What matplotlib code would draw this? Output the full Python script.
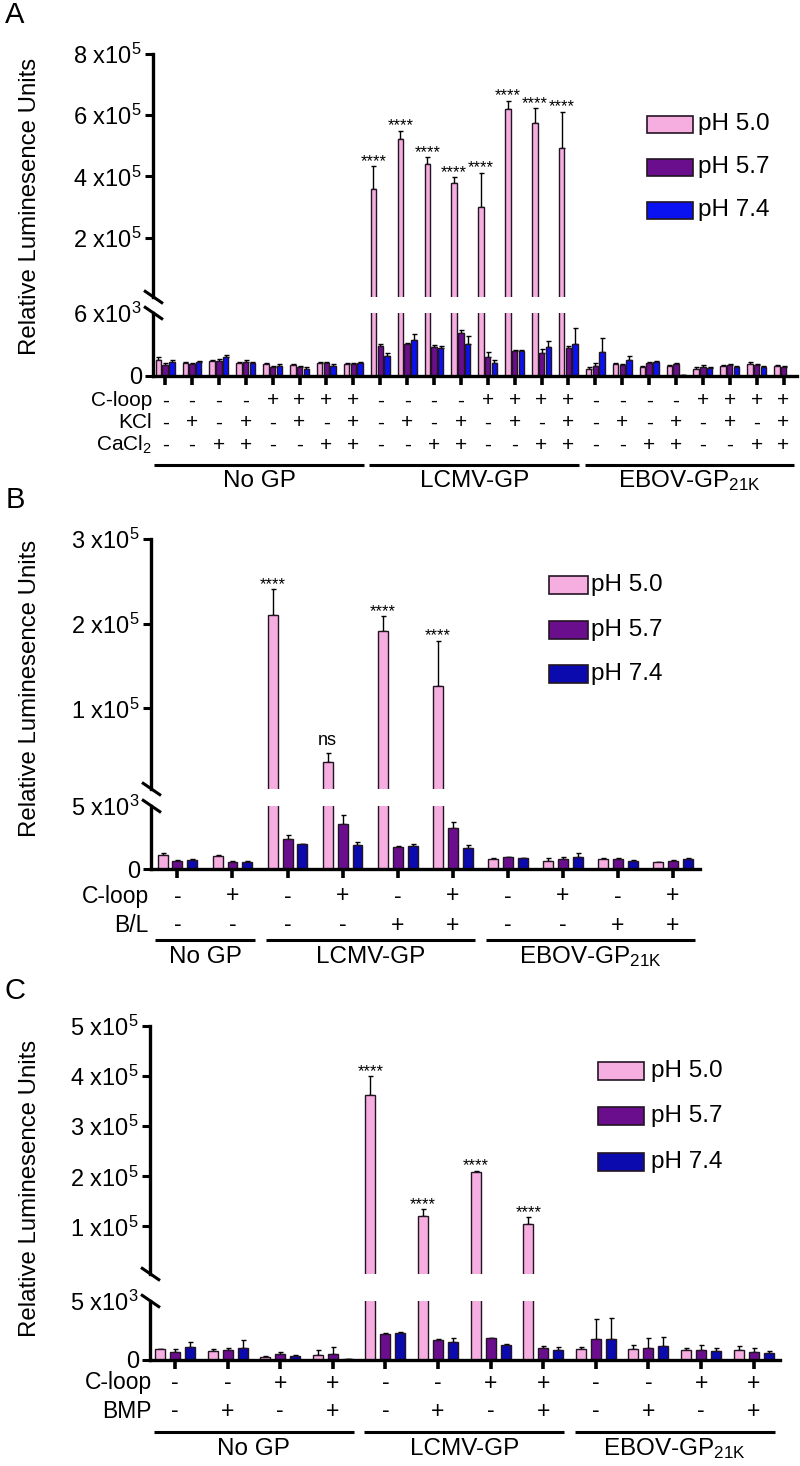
import numpy as np
import matplotlib
matplotlib.use('Agg')
import matplotlib.pyplot as plt
from matplotlib import font_manager as fm
from matplotlib.lines import Line2D
from matplotlib.patches import Rectangle
import matplotlib.transforms as mtransforms

avail = {f.name for f in fm.fontManager.ttflist}
NARROW = 'Liberation Sans Narrow' if 'Liberation Sans Narrow' in avail else 'Liberation Sans'
SANS = 'Liberation Sans'
plt.rcParams['font.family'] = [NARROW, 'DejaVu Sans']
plt.rcParams['mathtext.fontset'] = 'custom'
plt.rcParams['mathtext.rm'] = NARROW
plt.rcParams['mathtext.it'] = NARROW
plt.rcParams['mathtext.default'] = 'regular'

W, H = 800, 1466
fig = plt.figure(figsize=(8, 14.66), dpi=100)

PINK = '#F5AEDF'
PURPLE = '#6A0E8E'
BLUE_A = '#0A12F2'
BLUE_BC = '#0A0AAE'
EDGE = '#231423'
series_names = ['pH 5.0', 'pH 5.7', 'pH 7.4']

# ---------------- Panel A data ----------------
A_group_names = ['No GP', 'LCMV-GP', 'EBOV-GP$_{21K}$']
A_row_labels = ['C-loop', 'KCl', 'CaCl$_2$']
A_cloop = ['-', '-', '-', '-', '+', '+', '+', '+'] * 3
A_kcl = ['-', '+', '-', '+', '-', '+', '-', '+'] * 3
A_cacl2 = ['-', '-', '+', '+', '-', '-', '+', '+'] * 3
A_ph50 = [1520, 1280, 1470, 1280, 1140, 1090, 1280, 1140,
          359000, 522000, 439000, 379000, 301000, 620000, 574000, 494000,
          665, 1140, 855, 950, 710, 950, 1190, 950]
A_ph50_err = [250, 100, 100, 100, 100, 100, 100, 100,
              74000, 28000, 24000, 19000, 111000, 28000, 49000, 117000,
              160, 100, 100, 100, 100, 100, 100, 100]
A_ph57 = [1090, 1140, 1425, 1380, 855, 855, 1235, 1140,
          2850, 3040, 2755, 4085, 1805, 2420, 2230, 2710,
          1000, 1090, 1235, 1140, 855, 1045, 1045, 900]
A_ph57_err = [150, 100, 150, 150, 100, 100, 100, 100,
              170, 150, 150, 250, 475, 100, 320, 100,
              285, 100, 100, 100, 190, 100, 100, 100]
A_ph74 = [1380, 1330, 1850, 1235, 1000, 710, 1000, 1280,
          1950, 3420, 2710, 3090, 1235, 2420, 2755, 3040,
          2280, 1570, 1330, 140, 760, 855, 855, 0]
A_ph74_err = [100, 100, 150, 100, 100, 100, 100, 100,
              285, 570, 100, 700, 320, 100, 570, 1490,
              1360, 320, 100, 0, 100, 100, 100, 0]
A_stars = ['****'] * 8
A_star_idx = [8, 9, 10, 11, 12, 13, 14, 15]

# ---------------- Panel B data ----------------
B_group_names = ['No GP', 'LCMV-GP', 'EBOV-GP$_{21K}$']
B_row_labels = ['C-loop', 'B/L']
B_cloop = ['-', '+', '-', '+', '-', '+', '-', '+', '-', '+']
B_bl = ['-', '-', '-', '-', '+', '+', '-', '-', '+', '+']
B_ph50 = [1110, 1030, 210000, 37000, 192000, 126000, 795, 660, 795, 530]
B_ph50_err = [190, 80, 31000, 10000, 17000, 54000, 80, 240, 60, 60]
B_ph57 = [660, 580, 2380, 3570, 1720, 3230, 930, 795, 795, 660]
B_ph57_err = [60, 40, 350, 720, 80, 480, 60, 185, 60, 60]
B_ph74 = [715, 580, 1960, 1900, 1850, 1690, 850, 980, 660, 795]
B_ph74_err = [60, 40, 40, 220, 130, 210, 60, 265, 40, 80]
B_stars = ['****', 'ns', '****', '****']
B_star_idx = [2, 3, 4, 5]

# ---------------- Panel C data ----------------
C_group_names = ['No GP', 'LCMV-GP', 'EBOV-GP$_{21K}$']
C_row_labels = ['C-loop', 'BMP']
C_cloop = ['-', '-', '+', '+'] * 3
C_bmp = ['-', '+', '-', '+'] * 3
C_ph50 = [900, 735, 225, 425, 363000, 121000, 208000, 105000, 960, 900, 880, 880]
C_ph50_err = [60, 225, 145, 425, 37000, 14000, 3000, 14000, 140, 370, 140, 340]
C_ph57 = [680, 820, 540, 480, 2240, 1670, 1840, 1020, 1810, 1020, 880, 710]
C_ph57_err = [220, 230, 140, 620, 60, 85, 60, 170, 1650, 880, 420, 310]
C_ph74 = [1100, 990, 340, 110, 2320, 1560, 1275, 820, 1760, 1190, 765, 565]
C_ph74_err = [460, 680, 85, 0, 60, 340, 60, 300, 1810, 790, 270, 200]
C_stars = ['****'] * 4
C_star_idx = [4, 5, 6, 7]


def axes_px(x0, y0, x1, y1):
    return fig.add_axes([x0 / W, 1 - y1 / H, (x1 - x0) / W, (y1 - y0) / H])


def fig_line(x0, y0, x1, y1, lw):
    fig.add_artist(Line2D([x0 / W, x1 / W], [1 - y0 / H, 1 - y1 / H],
                          transform=fig.transFigure, color='black', lw=lw,
                          solid_capstyle='butt'))


def draw_panel(P):
    n = len(P['vals'][0])
    x = np.arange(n)
    x0, x1 = P['xpx']
    up = axes_px(x0, P['up_y'][0], x1, P['up_y'][1])
    lo = axes_px(x0, P['lo_y'][0], x1, P['lo_y'][1])
    off, bw = P['off'], P['bw']
    colors = [PINK, PURPLE, P['blue']]
    for ax, is_up in ((up, True), (lo, False)):
        for k in range(3):
            xs = x + (k - 1) * off
            v = np.array(P['vals'][k], float)
            e = np.array(P['errs'][k], float)
            if is_up:
                keep = v > P['lo_top']
            else:
                keep = np.ones(n, bool)
            ax.bar(xs[keep], v[keep], width=bw, color=colors[k], edgecolor=EDGE,
                   linewidth=1.0, zorder=2)
            ax.errorbar(xs[keep], v[keep], yerr=[np.zeros(keep.sum()), e[keep]],
                        fmt='none', ecolor='black', elinewidth=1.0, capsize=1.8,
                        capthick=1.0, zorder=1)
        ax.set_xlim(*P['xlim'])
        for s in ('top', 'right'):
            ax.spines[s].set_visible(False)
        ax.spines['left'].set_linewidth(2.4)
        ax.tick_params(axis='y', direction='out', length=6, width=2.2,
                       labelsize=P['tick_fs'], pad=2)
    up.spines['bottom'].set_visible(False)
    up.set_xticks([])
    up.set_ylim(*P['up_lim'])
    up.set_yticks(P['up_ticks'])
    up.set_yticklabels(P['up_labels'])
    lo.set_ylim(0, P['lo_top'])
    lo.set_yticks([0, P['lo_top']])
    lo.set_yticklabels(['0', P['lo_label']])
    lo.yaxis.get_major_ticks()[1].tick1line.set_visible(False)
    lo.spines['bottom'].set_linewidth(2.4)
    lo.set_xticks(x)
    lo.set_xticklabels([])
    lo.tick_params(axis='x', direction='out', length=6.5, width=2.6)

    # break marks on the y axis
    for yb in (P['up_y'][1], P['lo_y'][0]):
        fig_line(x0 - 9, yb - 6.5, x0 + 10, yb + 6.5, 2.2)

    # significance labels
    for idx, txt in zip(P['star_idx'], P['stars']):
        top = P['vals'][0][idx] + P['errs'][0][idx]
        star = txt.startswith('*')
        up.annotate(txt, (idx - off, top), xytext=(0, -2 if star else 3),
                    textcoords='offset points', ha='center', va='bottom',
                    fontsize=12 if star else 13, family=[SANS])

    # condition rows
    tr = mtransforms.blended_transform_factory(lo.transData, fig.transFigure)
    for lab, signs, yp in zip(P['row_labels'], P['rows'], P['row_y']):
        fig.text(P['row_lab_x'] / W, 1 - yp / H, lab, ha='right', va='center',
                 fontsize=P['row_fs'])
        for i, s in enumerate(signs):
            fig.text(x[i], 1 - yp / H, s, transform=tr, ha='center',
                     va='center', fontsize=P['row_fs'])
    # group lines and names
    start = 0
    for gname, cnt in zip(P['group_names'], P['group_sizes']):
        a, b = start - 0.4, start + cnt - 1 + 0.4
        lo.plot([a, b], [1 - P['line_y'] / H] * 2, transform=tr, color='black',
                lw=2.2, clip_on=False, solid_capstyle='butt')
        fig.text((a + b) / 2, 1 - P['name_y'] / H, gname, transform=tr,
                 ha='center', va='center', fontsize=P['name_fs'])
        start += cnt

    # legend
    lx0, lx1 = P['leg_x']
    for k in range(3):
        yc = P['leg_y'][k]
        hh = P['leg_h']
        fig.add_artist(Rectangle((lx0 / W, 1 - (yc + hh / 2) / H),
                                 (lx1 - lx0) / W, hh / H,
                                 transform=fig.transFigure, facecolor=colors[k],
                                 edgecolor=EDGE, linewidth=1.2))
        fig.text(P['leg_tx'] / W, 1 - yc / H, series_names[k], ha='left',
                 va='center', fontsize=P['leg_fs'])

    # y label and panel letter
    fig.text(30 / W, 1 - P['ylab_y'] / H, 'Relative Luminesence Units',
             rotation=90, ha='center', va='center', fontsize=17.3, family=[SANS])
    fig.text(15 / W, 1 - P['letter_y'] / H, P['letter'], ha='center',
             va='center', fontsize=21)


draw_panel(dict(
    letter='A', letter_y=15,
    vals=[A_ph50, A_ph57, A_ph74], errs=[A_ph50_err, A_ph57_err, A_ph74_err],
    blue=BLUE_A, xpx=(153, 797), xlim=(-0.45, 23.5),
    up_y=(54, 297), lo_y=(313, 376), off=0.25, bw=0.2,
    up_lim=(6000, 800000), up_ticks=[200000, 400000, 600000, 800000],
    up_labels=['2 x10$^5$', '4 x10$^5$', '6 x10$^5$', '8 x10$^5$'],
    lo_top=6000, lo_label='6 x10$^3$', tick_fs=17,
    stars=A_stars, star_idx=A_star_idx,
    row_labels=A_row_labels, rows=[A_cloop, A_kcl, A_cacl2],
    row_y=[401, 423, 445], row_lab_x=152, row_fs=15,
    group_names=A_group_names, group_sizes=[8, 8, 8],
    line_y=465, name_y=481, name_fs=17.5,
    leg_x=(647, 693), leg_y=[124, 167, 210], leg_h=17, leg_tx=698, leg_fs=17.5,
    ylab_y=206,
))

draw_panel(dict(
    letter='B', letter_y=500,
    vals=[B_ph50, B_ph57, B_ph74], errs=[B_ph50_err, B_ph57_err, B_ph74_err],
    blue=BLUE_BC, xpx=(151, 700), xlim=(-0.48, 9.49),
    up_y=(539, 789), lo_y=(806, 869), off=0.27, bw=0.18,
    up_lim=(5000, 300000), up_ticks=[100000, 200000, 300000],
    up_labels=['1 x10$^5$', '2 x10$^5$', '3 x10$^5$'],
    lo_top=5000, lo_label='5 x10$^3$', tick_fs=17,
    stars=B_stars, star_idx=B_star_idx,
    row_labels=B_row_labels, rows=[B_cloop, B_bl],
    row_y=[896, 925], row_lab_x=149, row_fs=16.5,
    group_names=B_group_names, group_sizes=[2, 4, 4],
    line_y=940, name_y=957, name_fs=17.5,
    leg_x=(549, 588), leg_y=[585, 630, 674], leg_h=18, leg_tx=591, leg_fs=17.5,
    ylab_y=688,
))

draw_panel(dict(
    letter='C', letter_y=991,
    vals=[C_ph50, C_ph57, C_ph74], errs=[C_ph50_err, C_ph57_err, C_ph74_err],
    blue=BLUE_BC, xpx=(150, 780), xlim=(-0.475, 11.5),
    up_y=(1026, 1274), lo_y=(1301, 1360), off=0.285, bw=0.19,
    up_lim=(5000, 500000), up_ticks=[100000, 200000, 300000, 400000, 500000],
    up_labels=['1 x10$^5$', '2 x10$^5$', '3 x10$^5$', '4 x10$^5$', '5 x10$^5$'],
    lo_top=5000, lo_label='5 x10$^3$', tick_fs=17,
    stars=C_stars, star_idx=C_star_idx,
    row_labels=C_row_labels, rows=[C_cloop, C_bmp],
    row_y=[1383, 1411], row_lab_x=152, row_fs=16.5,
    group_names=C_group_names, group_sizes=[4, 4, 4],
    line_y=1432, name_y=1449, name_fs=17.5,
    leg_x=(598, 644), leg_y=[1071, 1116, 1162], leg_h=18, leg_tx=651, leg_fs=17.5,
    ylab_y=1188,
))

fig.savefig('out.png', dpi=100)
